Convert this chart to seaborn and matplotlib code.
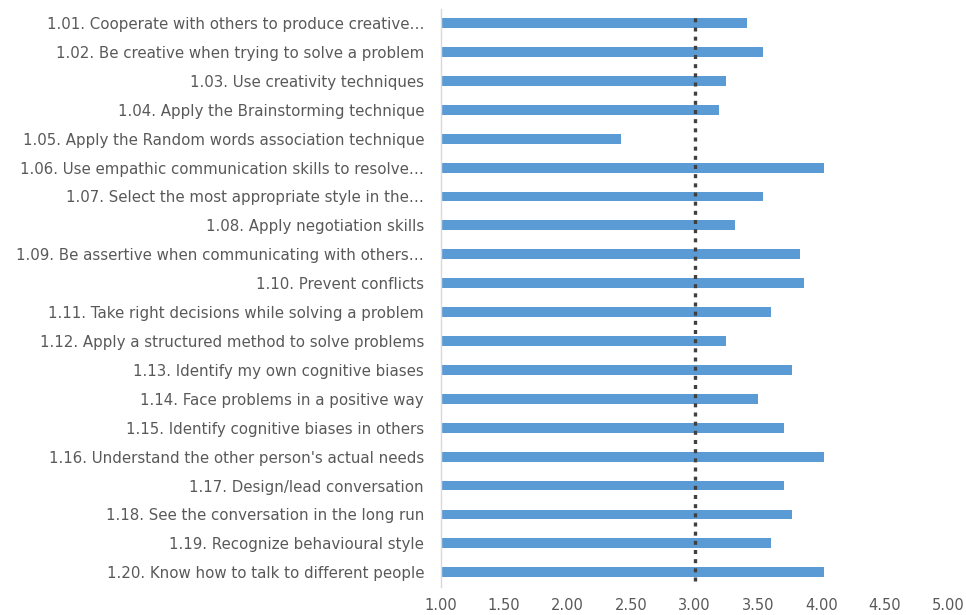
import numpy as np
import pandas as pd
import matplotlib as mpl
mpl.use("Agg")
import matplotlib.pyplot as plt
import seaborn as sns

labels = [
    "1.01. Cooperate with others to produce creative…",
    "1.02. Be creative when trying to solve a problem",
    "1.03. Use creativity techniques",
    "1.04. Apply the Brainstorming technique",
    "1.05. Apply the Random words association technique",
    "1.06. Use empathic communication skills to resolve…",
    "1.07. Select the most appropriate style in the…",
    "1.08. Apply negotiation skills",
    "1.09. Be assertive when communicating with others…",
    "1.10. Prevent conflicts",
    "1.11. Take right decisions while solving a problem",
    "1.12. Apply a structured method to solve problems",
    "1.13. Identify my own cognitive biases",
    "1.14. Face problems in a positive way",
    "1.15. Identify cognitive biases in others",
    "1.16. Understand the other person's actual needs",
    "1.17. Design/lead conversation",
    "1.18. See the conversation in the long run",
    "1.19. Recognize behavioural style",
    "1.20. Know how to talk to different people",
]
scores = [3.41, 3.54, 3.25, 3.19, 2.42, 4.02, 3.54, 3.32, 3.83, 3.86,
          3.60, 3.25, 3.77, 3.50, 3.70, 4.02, 3.70, 3.77, 3.60, 4.02]
reference = 3.0
xticks = [1.0, 1.5, 2.0, 2.5, 3.0, 3.5, 4.0, 4.5, 5.0]

df = pd.DataFrame({"item": labels, "score": scores})

sns.set_theme(style="white")
plt.rcParams["font.family"] = ["DejaVu Sans"]

fig = plt.figure(figsize=(9.66, 6.15), dpi=100)
ax = fig.add_axes([0.4562, 0.046, 0.5258, 0.94])

sns.barplot(data=df, x="score", y="item", orient="h", color="#5B9BD5",
            saturation=1, width=0.34, linewidth=0, ax=ax)
ax.axvline(reference, ymin=0.01, ymax=0.99, color="#404040", lw=2.4,
           linestyle=(0, (1.2, 1.55)))

ax.set_xlim(1, 5)
ax.set_ylim(len(labels) - 0.5, -0.5)
ax.set_xticks(xticks)
ax.set_xticklabels([f"{t:.2f}" for t in xticks])
ax.set_xlabel("")
ax.set_ylabel("")
for s in ["top", "right", "bottom"]:
    ax.spines[s].set_visible(False)
ax.spines["left"].set_color("#D9D9D9")
ax.spines["left"].set_linewidth(1)
ax.tick_params(axis="y", length=0, pad=12, labelsize=10.8, labelcolor="#595959")
ax.tick_params(axis="x", length=0, pad=8, labelsize=10.5, labelcolor="#595959")

fig.savefig("out.png", dpi=100)
